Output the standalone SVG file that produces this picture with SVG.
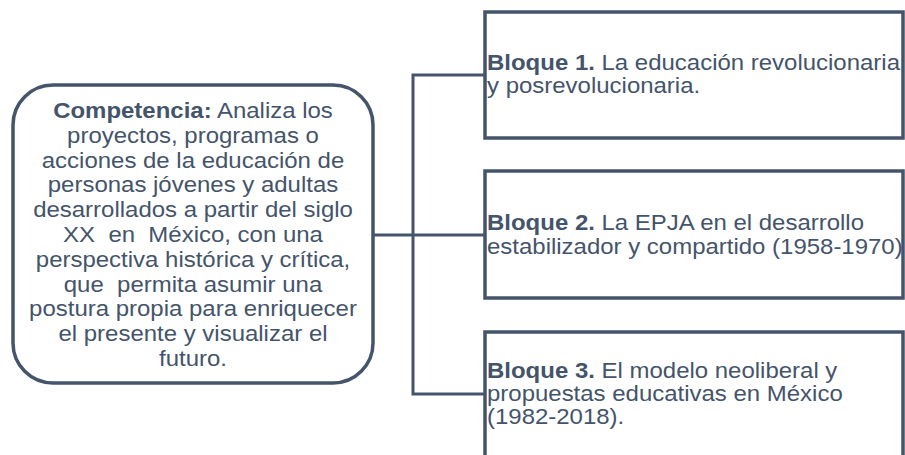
<svg xmlns="http://www.w3.org/2000/svg" width="905" height="455" viewBox="0 0 905 455">
<style>
  .box { fill: #ffffff; stroke: #44546A; stroke-width: 3.5; }
  .conn { fill: none; stroke: #44546A; stroke-width: 3; }
  text { font-family: "Liberation Sans", Arial, sans-serif; font-size: 22px; fill: #44546A; white-space: pre; }
  .c { text-anchor: middle; }
  .b { font-weight: bold; }
</style>
<rect x="0" y="0" width="905" height="455" fill="#ffffff"/>
<g id="connectors">
  <path class="conn" d="M374,235 H485"/>
  <path class="conn" d="M485,75 H413 V394 H485"/>
</g>
<g id="competencia">
  <rect class="box" x="13" y="85" width="360" height="298" rx="40" ry="40"/>
  <g transform="translate(193,0) scale(1.09,1)">
    <text class="c" x="0" y="118"><tspan class="b">Competencia:</tspan> Analiza los</text>
    <text class="c" x="0" y="142.8">proyectos, programas o</text>
    <text class="c" x="0" y="167.6">acciones de la educación de</text>
    <text class="c" x="0" y="192.4">personas jóvenes y adultas</text>
    <text class="c" x="0" y="217.2">desarrollados a partir del siglo</text>
    <text class="c" x="0" y="242" xml:space="preserve">XX  en  México, con una</text>
    <text class="c" x="0" y="266.8">perspectiva histórica y crítica,</text>
    <text class="c" x="0" y="291.6" xml:space="preserve">que  permita asumir una</text>
    <text class="c" x="0" y="316.4">postura propia para enriquecer</text>
    <text class="c" x="0" y="341.2">el presente y visualizar el</text>
    <text class="c" x="0" y="366">futuro.</text>
  </g>
</g>
<g id="bloque1">
  <rect class="box" x="485" y="12" width="418" height="126"/>
  <g transform="translate(487,0) scale(1.09,1)">
    <text x="0" y="70"><tspan class="b">Bloque 1.</tspan> La educación revolucionaria</text>
    <text x="0" y="93.5">y posrevolucionaria.</text>
  </g>
</g>
<g id="bloque2">
  <rect class="box" x="485" y="171" width="418" height="127"/>
  <g transform="translate(487,0) scale(1.09,1)">
    <text x="0" y="230"><tspan class="b">Bloque 2.</tspan> La EPJA en el desarrollo</text>
    <text x="0" y="254">estabilizador y compartido (1958-1970)</text>
  </g>
</g>
<g id="bloque3">
  <rect class="box" x="485" y="332" width="418" height="140"/>
  <g transform="translate(487,0) scale(1.09,1)">
    <text x="0" y="378"><tspan class="b">Bloque 3.</tspan> El modelo neoliberal y</text>
    <text x="0" y="401">propuestas educativas en México</text>
    <text x="0" y="424">(1982-2018).</text>
  </g>
</g>
</svg>
